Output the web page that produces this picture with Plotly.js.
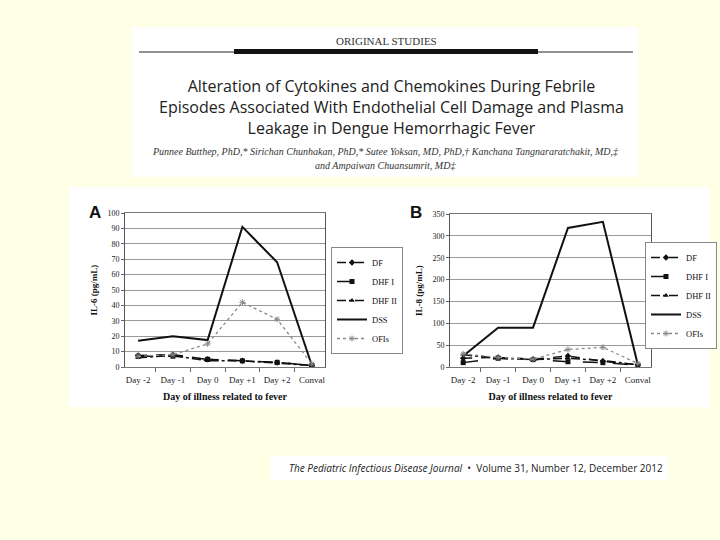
<!DOCTYPE html>
<html>
<head>
<meta charset="utf-8">
<script src="https://cdn.plot.ly/plotly-3.0.1.min.js"></script>
<style>
  html, body { margin: 0; padding: 0; background: #ffffe6; overflow: hidden; }
  #slide { width: 720px; height: 540px; }
</style>
</head>
<body>
<div id="slide"></div>
<script>
// categories on the x axis
const days = ['Day -2', 'Day -1', 'Day 0', 'Day +1', 'Day +2', 'Conval'];
const groups = ['DF', 'DHF I', 'DHF II', 'DSS', 'OFIs'];

// panel A - IL-6 (pg/mL)
const il6DF   = [7.5, 8, 5, 4, 3, 1];
const il6DHF1 = [7, 7, 5, 4, 3, 1];
const il6DHF2 = [6, 7.5, 4, 4, 2.5, 1];
const il6DSS  = [17, 20, 17.5, 91, 68, 1];
const il6OFI  = [7, 8, 15, 42, 31, 2];

// panel B - IL-8 (pg/mL)
const il8DF   = [20, 22, 18, 25, 13, 5];
const il8DHF1 = [10, 20, 17, 12, 10, 4];
const il8DHF2 = [28, 20, 17, 20, 15, 5];
const il8DSS  = [25, 90, 90, 318, 332, 5];
const il8OFI  = [30, 22, 18, 40, 45, 8];

const W = 720, H = 540;
const px = x => x / W;
const py = y => 1 - y / H;

const serif = 'Liberation Serif, Times New Roman, serif';
const sans = 'Open Sans, sans-serif';

// line / marker look for each group (Excel style)
const styles = {
  'DF':     { mode: 'lines+markers', line: { color: '#111', width: 1.5, dash: 'dash' },     marker: { symbol: 'diamond', size: 5, color: '#111' } },
  'DHF I':  { mode: 'lines+markers', line: { color: '#111', width: 1.5, dash: 'longdash' }, marker: { symbol: 'square', size: 5, color: '#111' } },
  'DHF II': { mode: 'lines+markers', line: { color: '#111', width: 1.5, dash: 'dashdot' },  marker: { symbol: 'triangle-up', size: 5, color: '#111' } },
  'DSS':    { mode: 'lines',         line: { color: '#111', width: 2 },                     marker: {} },
  'OFIs':   { mode: 'lines+markers', line: { color: '#888', width: 1.3, dash: 'dot' },      marker: { symbol: 'asterisk-open', size: 5, color: '#888', line: { color: '#888', width: 1 } } }
};

function makeTraces(vals, xa, ya, leg) {
  return groups.map((g, i) => ({
    x: days, y: vals[i], type: 'scatter', mode: styles[g].mode,
    name: g, xaxis: xa, yaxis: ya, legend: leg,
    line: styles[g].line, marker: styles[g].marker
  }));
}

const traces = [
  ...makeTraces([il6DF, il6DHF1, il6DHF2, il6DSS, il6OFI], 'x', 'y', 'legend'),
  ...makeTraces([il8DF, il8DHF1, il8DHF2, il8DSS, il8OFI], 'x2', 'y2', 'legend2')
];

const xCommon = {
  type: 'category', tickson: 'boundaries', ticks: 'outside', ticklen: 4, tickcolor: '#666',
  tickangle: 0, ticklabelstandoff: 4,
  showline: true, linecolor: '#777', mirror: true, showgrid: false,
  tickfont: { family: serif, size: 9, color: '#222' },
  title: { text: '<b>Day of illness related to fever</b>', font: { family: serif, size: 10, color: '#111' }, standoff: 9 },
  fixedrange: true
};
const yCommon = {
  ticks: 'outside', ticklen: 3, tickcolor: '#666',
  showline: true, linecolor: '#555', mirror: true,
  showgrid: true, gridcolor: '#999', gridwidth: 1, zeroline: false,
  tickfont: { family: serif, size: 8, color: '#222' },
  fixedrange: true
};
const legCommon = {
  xanchor: 'left', yanchor: 'top', bgcolor: '#fff',
  bordercolor: '#888', borderwidth: 1,
  font: { family: serif, size: 8.5, color: '#111' },
  itemwidth: 30, tracegroupgap: 0
};

// helper for centred text annotations in slide pixels
function label(text, x, y, font, extra) {
  return Object.assign({ text, x: px(x), y: py(y), xref: 'paper', yref: 'paper',
    xanchor: 'center', yanchor: 'middle', showarrow: false, font }, extra || {});
}

const layout = {
  width: W, height: H,
  margin: { l: 0, r: 0, t: 0, b: 0 },
  paper_bgcolor: '#ffffe6', plot_bgcolor: '#fff',
  showlegend: true,
  xaxis:  { ...xCommon, domain: [px(125), px(325)], anchor: 'y' },
  yaxis:  { ...yCommon, domain: [py(367), py(213)], anchor: 'x', range: [0, 100], dtick: 10,
            title: { text: '<b>IL-6 (pg/mL)</b>', font: { family: serif, size: 9, color: '#111' }, standoff: 8 } },
  xaxis2: { ...xCommon, domain: [px(450), px(651)], anchor: 'y2' },
  yaxis2: { ...yCommon, domain: [py(367), py(214)], anchor: 'x2', range: [0, 350], dtick: 50,
            title: { text: '<b>IL-8 (pg/mL)</b>', font: { family: serif, size: 9, color: '#111' }, standoff: 8 } },
  legend:  { ...legCommon, x: px(331), y: py(247) },
  legend2: { ...legCommon, x: px(645), y: py(242) },
  shapes: [
    // white panels of the slide
    { type: 'rect', xref: 'paper', yref: 'paper', x0: px(132), x1: px(638), y0: py(177), y1: py(27), fillcolor: '#fff', line: { width: 0 }, layer: 'below' },
    { type: 'rect', xref: 'paper', yref: 'paper', x0: px(69), x1: px(710), y0: py(407), y1: py(187), fillcolor: '#fff', line: { width: 0 }, layer: 'below' },
    { type: 'rect', xref: 'paper', yref: 'paper', x0: px(270), x1: px(668), y0: py(480), y1: py(456), fillcolor: '#fff', line: { width: 0 }, layer: 'below' },
    // header rules
    { type: 'line', xref: 'paper', yref: 'paper', x0: px(139), x1: px(633), y0: py(52), y1: py(52), line: { color: '#222', width: 1 } },
    { type: 'rect', xref: 'paper', yref: 'paper', x0: px(234), x1: px(538), y0: py(54), y1: py(49), fillcolor: '#111', line: { width: 0 } }
  ],
  annotations: [
    label('ORIGINAL STUDIES', 386, 41, { family: serif, size: 11, color: '#333' }),
    label('Alteration of Cytokines and Chemokines During Febrile<br>Episodes Associated With Endothelial Cell Damage and Plasma<br>Leakage in Dengue Hemorrhagic Fever',
      392, 107, { family: sans, size: 16, color: '#222' }, { align: 'center' }),
    label('<i>Punnee Butthep, PhD,* Sirichan Chunhakan, PhD,* Sutee Yoksan, MD, PhD,† Kanchana Tangnararatchakit, MD,‡</i>',
      385, 152, { family: serif, size: 10, color: '#333' }),
    label('<i>and Ampaiwan Chuansumrit, MD‡</i>', 385, 166, { family: serif, size: 10, color: '#333' }),
    label('<b>A</b>', 95, 213, { family: 'Liberation Sans, Arial, sans-serif', size: 17, color: '#111' }),
    label('<b>B</b>', 416, 213, { family: 'Liberation Sans, Arial, sans-serif', size: 17, color: '#111' }),
    label('<i>The Pediatric Infectious Disease Journal</i>  •  Volume 31, Number 12, December 2012',
      665, 468, { family: sans, size: 10, color: '#222' }, { xanchor: 'right' })
  ]
};

Plotly.newPlot('slide', traces, layout, { displayModeBar: false, staticPlot: true });
</script>
</body>
</html>
